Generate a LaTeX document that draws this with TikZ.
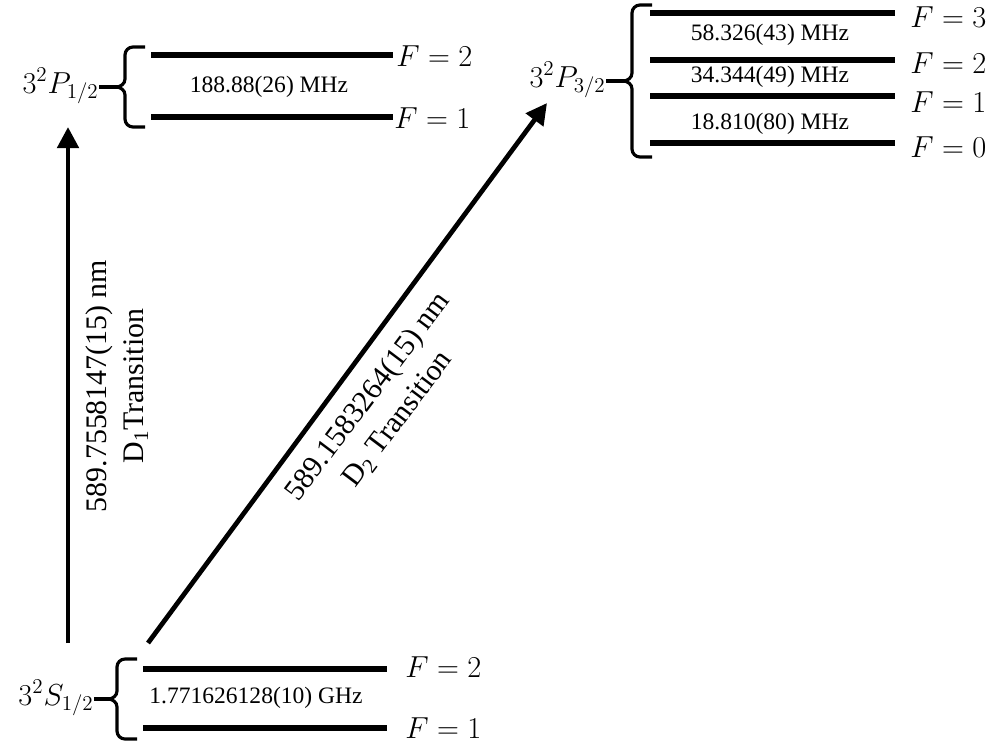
\documentclass[tikz,border=0pt]{standalone}
\usepackage{fontspec}
\setmainfont{Liberation Serif}
\usetikzlibrary{positioning,arrows.meta}
\tikzset{
  level-line/.style={line width=3.1pt},
  brace-line/.style={line width=1.8pt},
  brace-tick/.style={line width=2.6pt},
  arrow-trans/.style={-{Triangle[length=12pt,width=12pt]},line width=2.7pt},
  lbl-state/.style={font=\fontsize{18}{21}\selectfont,inner sep=0pt,anchor=base east},
  lbl-F/.style={font=\fontsize{18.5}{21}\selectfont,inner sep=0pt,anchor=west},
  lbl-split/.style={font=\fontsize{13.4}{16}\selectfont,inner sep=0pt},
  lbl-trans/.style={font=\fontsize{17}{21}\selectfont,align=center,inner sep=0pt},
}

\begin{document}
\begin{tikzpicture}[x=0.02cm,y=-0.02cm]
  \useasboundingbox (0,0) rectangle (993,744);

  % braces: spine x / top / bottom / name
  \foreach \xv/\yt/\yb/\nm in {125/47/127/p12, 632/5/157/p32, 117/659/739/s12}{
    \draw[brace-line] (\xv+20,\yt) -- (\xv+8,\yt) to[out=180,in=90] (\xv,\yt+8)
      -- (\xv,{(\yt+\yb)/2-8}) to[out=-90,in=0] (\xv-9,{(\yt+\yb)/2})
      to[out=0,in=90] (\xv,{(\yt+\yb)/2+8})
      -- (\xv,\yb-8) to[out=-90,in=180] (\xv+8,\yb) -- (\xv+20,\yb);
    \coordinate (\nm-tip) at (\xv-8,{(\yt+\yb)/2});
  }

  % term labels
  \node[lbl-state] (p12) at (99,93) {$3^2P_{1/2}$};
  \node[lbl-state] (p32) at (606,87) {$3^2P_{3/2}$};
  \node[lbl-state] (s12) at (94,705) {$3^2S_{1/2}$};
  \draw[brace-tick] (p12.east |- p12-tip) -- (p12-tip);
  \draw[brace-tick] (p32.east |- p32-tip) -- (p32-tip);
  \draw[brace-tick] (s12.east |- s12-tip) -- (s12-tip);

  % 3P1/2 levels
  \draw[level-line] (151,55) -- (393,55);
  \draw[level-line] (151,117) -- (393,117);
  \node[lbl-F] (p12-f2) at (396,56) {$F=2$};
  \node[lbl-F] (p12-f1) at (394,118) {$F=1$};
  \node[lbl-split] (p12-hfs) at (269,87) {188.88(26) MHz};

  % 3P3/2 levels
  \foreach \y/\ly/\f in {13/17/3, 60/63/2, 96/102/1, 143/147/0}{
    \draw[level-line] (650,\y) -- (895,\y);
    \node[lbl-F] (p32-f\f) at (910,\ly) {$F=\f$};
  }
  \node[lbl-split] (p32-hfs3) at (770,35) {58.326(43) MHz};
  \node[lbl-split] (p32-hfs2) at (770,77) {34.344(49) MHz};
  \node[lbl-split] (p32-hfs1) at (770,124) {18.810(80) MHz};

  % 3S1/2 levels
  \draw[level-line] (143,669) -- (387,669);
  \draw[level-line] (143,728) -- (387,728);
  \node[lbl-F] (s12-f2) at (405,667) {$F=2$};
  \node[lbl-F] (s12-f1) at (405,728) {$F=1$};
  \node[lbl-split] (s12-hfs) at (256,698) {1.771626128(10) GHz};

  % transitions
  \coordinate (d1-from) at (68,643);
  \coordinate (d1-to) at (68,127);
  \coordinate (d2-from) at (148,643);
  \coordinate (d2-to) at (547,103);
  \draw[arrow-trans] (d1-from) -- (d1-to);
  \draw[arrow-trans] (d2-from) -- (d2-to);
  \node[lbl-trans,rotate=90] (d1-lbl) at (117,386)
    {589.7558147(15) nm\\D\textsubscript{1}Transition};
  \node[lbl-trans,rotate=53] (d2-lbl) at (383,408)
    {589.1583264(15) nm\\D\textsubscript{2} Transition};
\end{tikzpicture}
\end{document}
